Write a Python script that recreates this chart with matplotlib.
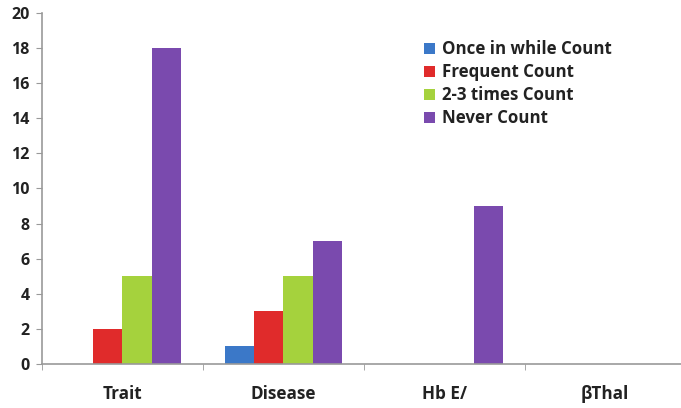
import numpy as np
import matplotlib.pyplot as plt
from matplotlib.ticker import FixedLocator

categories = ["Trait", "Disease", "Hb E/", "\u03b2Thal"]
series_names = ["Once in while Count", "Frequent Count", "2-3 times Count", "Never Count"]
once_in_while = [0, 1, 0, 0]
frequent = [2, 3, 0, 0]
two_three_times = [5, 5, 0, 0]
never = [18, 7, 9, 0]

colors = ["#3b78c8", "#e02b2b", "#a5d23d", "#7a4aae"]

plt.rcParams['font.family'] = ['Open Sans', 'DejaVu Sans']

fig = plt.figure(figsize=(6.81, 4.08), dpi=100)
ax = fig.add_axes([0.0617, 0.108, 0.945, 0.86])

x = np.arange(len(categories))
width = 0.182
for i, (vals, name, c) in enumerate(zip([once_in_while, frequent, two_three_times, never],
                                        series_names, colors)):
    ax.bar(x + (i - 1.5) * width, vals, width, color=c, label=name, zorder=2)

ax.set_xlim(-0.5, len(categories) - 0.5)
ax.set_ylim(0, 20)
ax.set_yticks(range(0, 21, 2))
ax.set_xticks(x)
ax.set_xticklabels(categories, fontsize=12.3, fontweight='bold', color='#222222')
# tick marks sit between the category groups
ax.xaxis.set_minor_locator(FixedLocator(np.arange(-0.5, len(categories), 1.0)))
ax.tick_params(axis='x', which='major', length=0, pad=15)
ax.tick_params(axis='x', which='minor', length=4, color='#999999', direction='out')
ax.tick_params(axis='y', length=4, color='#999999', labelsize=11.5, pad=5, labelcolor='#222222')
for lab in ax.get_yticklabels():
    lab.set_fontweight('bold')

for side in ['top', 'right']:
    ax.spines[side].set_visible(False)
ax.spines['left'].set_color('#999999')
ax.spines['bottom'].set_color('#999999')
ax.spines['left'].set_linewidth(1.2)
ax.spines['bottom'].set_linewidth(1.2)

leg = fig.legend(loc='upper left', bbox_to_anchor=(0.612, 0.918), frameon=False,
                 prop={'weight': 'bold', 'size': 12.2}, handlelength=0.65, handleheight=0.65,
                 handletextpad=0.45, labelspacing=0.3, borderaxespad=0)
for t in leg.get_texts():
    t.set_color('#222222')

fig.savefig('out.png', dpi=100)
